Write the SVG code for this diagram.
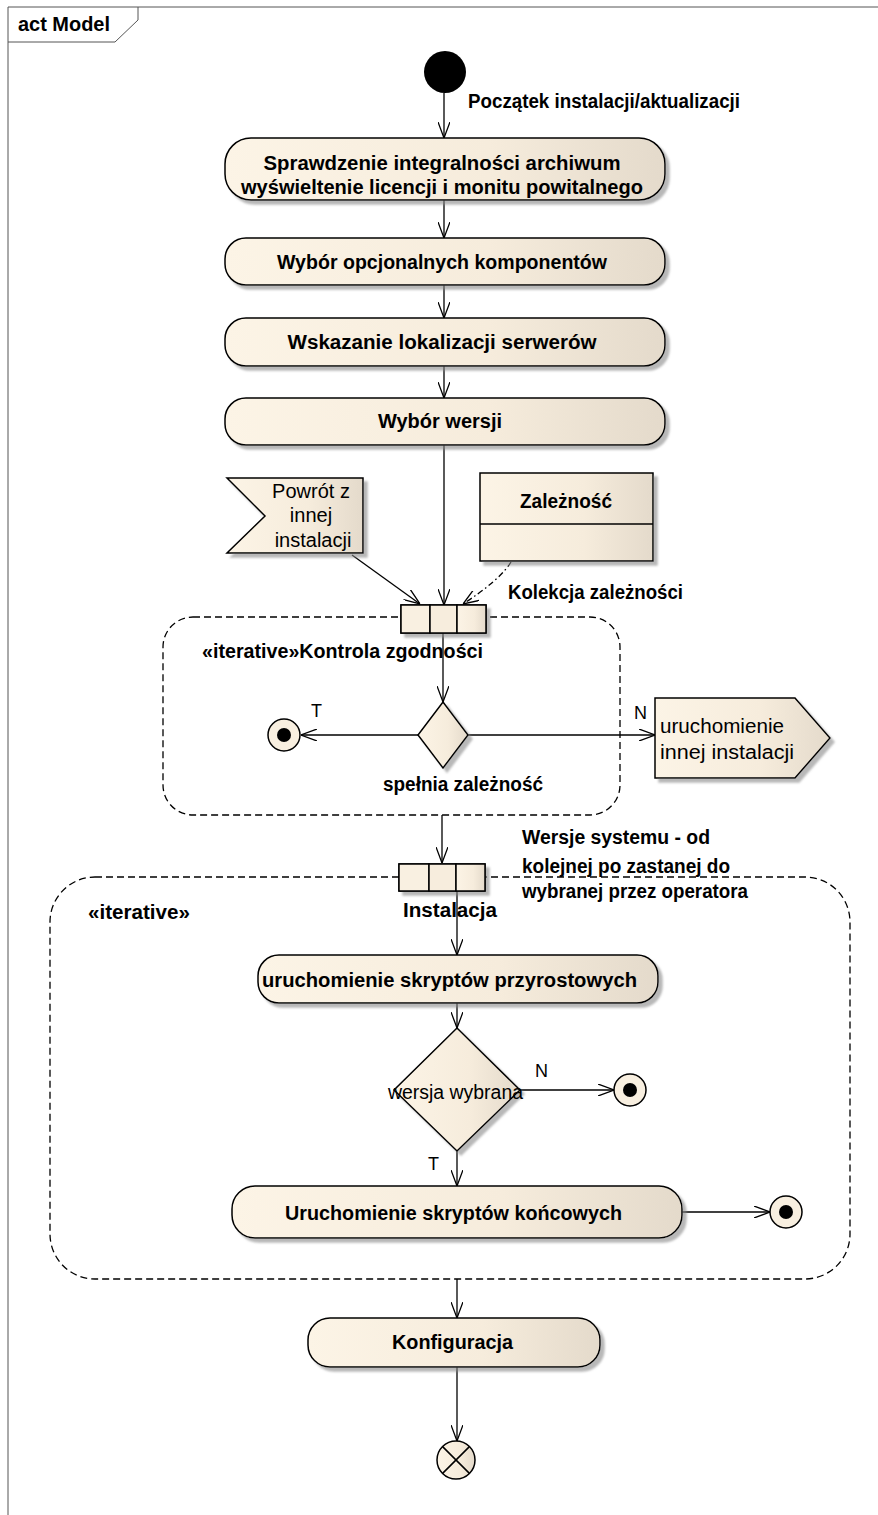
<svg xmlns="http://www.w3.org/2000/svg" width="878" height="1515" viewBox="0 0 878 1515">
<defs>
<linearGradient id="g" x1="0" y1="0" x2="1" y2="0">
<stop offset="0" stop-color="#fcf4e6"/>
<stop offset="0.6" stop-color="#f6ecdc"/>
<stop offset="1" stop-color="#e4dacb"/>
</linearGradient>
<filter id="sh" x="-10%" y="-10%" width="130%" height="140%">
<feDropShadow dx="4" dy="4" stdDeviation="1" flood-color="#888" flood-opacity="0.6"/>
</filter>
<marker id="arr" viewBox="0 0 16 12" refX="16" refY="6" markerWidth="16" markerHeight="12" markerUnits="userSpaceOnUse" orient="auto">
<path d="M0,0 L16,6 L0,12" fill="none" stroke="#000" stroke-width="1.3"/>
</marker>
<style>
.n{fill:url(#g);stroke:#000;stroke-width:1.5;filter:url(#sh)}
.b{font-family:"Liberation Sans",Arial,sans-serif;font-weight:bold;font-size:20px;fill:#000}
.r{font-family:"Liberation Sans",Arial,sans-serif;font-size:20px;fill:#000}
.s{font-family:"Liberation Sans",Arial,sans-serif;font-size:18px;fill:#000}
.c{text-anchor:middle}
.e{fill:none;stroke:#000;stroke-width:1.3}
.reg{fill:none;stroke:#000;stroke-width:1.3;stroke-dasharray:7,4}
</style>
</defs>
<rect width="878" height="1515" fill="#fff"/>

<g id="frame">
<path d="M8,1515 V7 H878" fill="none" stroke="#555" stroke-width="1"/>
<path d="M8,42 H115 L138,20 V7" fill="none" stroke="#555" stroke-width="1"/>
<text class="b" x="18" y="31" textLength="92" lengthAdjust="spacingAndGlyphs">act Model</text>
</g>

<g id="regions">
<rect id="region-kontrola" class="reg" x="163" y="617" width="457" height="198" rx="30"/>
<rect id="region-instalacja" class="reg" x="50" y="877" width="800" height="402" rx="45"/>
</g>

<g id="connectors">
<line class="e" x1="444" y1="93" x2="444" y2="138" marker-end="url(#arr)"/>
<line class="e" x1="444" y1="200" x2="444" y2="238" marker-end="url(#arr)"/>
<line class="e" x1="444" y1="285" x2="444" y2="318" marker-end="url(#arr)"/>
<line class="e" x1="444" y1="366" x2="444" y2="398" marker-end="url(#arr)"/>
<line class="e" x1="444" y1="445" x2="444" y2="605" marker-end="url(#arr)"/>
<line class="e" x1="352" y1="555" x2="420" y2="604" marker-end="url(#arr)"/>
<path class="e" d="M511,562 Q500,580 463,604" stroke-dasharray="6,3,1.5,3" marker-end="url(#arr)"/>
<line class="e" x1="443" y1="633" x2="443" y2="702" marker-end="url(#arr)"/>
<line class="e" x1="418" y1="735" x2="301" y2="735" marker-end="url(#arr)"/>
<line class="e" x1="468" y1="735" x2="655" y2="735" marker-end="url(#arr)"/>
<line class="e" x1="442" y1="815" x2="442" y2="863" marker-end="url(#arr)"/>
<line class="e" x1="457" y1="891" x2="457" y2="955" marker-end="url(#arr)"/>
<line class="e" x1="457" y1="1003" x2="457" y2="1028" marker-end="url(#arr)"/>
<line class="e" x1="520" y1="1090" x2="614" y2="1090" marker-end="url(#arr)"/>
<line class="e" x1="457" y1="1151" x2="457" y2="1186" marker-end="url(#arr)"/>
<line class="e" x1="682" y1="1212" x2="770" y2="1212" marker-end="url(#arr)"/>
<line class="e" x1="457" y1="1279" x2="457" y2="1318" marker-end="url(#arr)"/>
<line class="e" x1="457" y1="1367" x2="457" y2="1441" marker-end="url(#arr)"/>
</g>

<g id="start">
<circle cx="445" cy="72" r="21" fill="#000"/>
<text class="b" x="468" y="108" textLength="272" lengthAdjust="spacingAndGlyphs">Początek instalacji/aktualizacji</text>
</g>

<g id="a1">
<rect class="n" x="225" y="138" width="440" height="62" rx="26"/>
<text class="b c" x="442" y="170" textLength="357" lengthAdjust="spacingAndGlyphs">Sprawdzenie integralności archiwum</text>
<text class="b c" x="442" y="194" textLength="402" lengthAdjust="spacingAndGlyphs">wyświeltenie licencji i monitu powitalnego</text>
</g>

<g id="a2">
<rect class="n" x="225" y="238" width="440" height="47" rx="21"/>
<text class="b c" x="442" y="269" textLength="330" lengthAdjust="spacingAndGlyphs">Wybór opcjonalnych komponentów</text>
</g>

<g id="a3">
<rect class="n" x="225" y="318" width="440" height="48" rx="21"/>
<text class="b c" x="442" y="349" textLength="309" lengthAdjust="spacingAndGlyphs">Wskazanie lokalizacji serwerów</text>
</g>

<g id="a4">
<rect class="n" x="225" y="398" width="440" height="47" rx="21"/>
<text class="b c" x="440" y="428" textLength="124" lengthAdjust="spacingAndGlyphs">Wybór wersji</text>
</g>

<g id="powrot">
<polygon class="n" points="227,478 363,478 363,553 227,553 265,516"/>
<text class="r c" x="311" y="498">Powrót z</text>
<text class="r c" x="311" y="522">innej</text>
<text class="r c" x="313" y="547">instalacji</text>
</g>

<g id="zaleznosc">
<rect class="n" x="480" y="473" width="173" height="88"/>
<line x1="480" y1="524" x2="653" y2="524" stroke="#000" stroke-width="1.5"/>
<text class="b c" x="566" y="508" textLength="92" lengthAdjust="spacingAndGlyphs">Zależność</text>
<text class="b" x="508" y="599" textLength="175" lengthAdjust="spacingAndGlyphs">Kolekcja zależności</text>
</g>

<g id="pins1">
<rect class="n" x="401" y="605" width="85" height="28"/>
<rect x="401" y="605" width="29" height="28" fill="#f9f0e1" stroke="#000" stroke-width="1.5"/>
<rect x="430" y="605" width="27" height="28" fill="#f7eddd" stroke="#000" stroke-width="1.5"/>
<rect x="457" y="605" width="29" height="28" fill="url(#g)" stroke="#000" stroke-width="1.5"/>
<text class="b" x="202" y="658" textLength="281" lengthAdjust="spacingAndGlyphs">«iterative»Kontrola zgodności</text>
</g>

<g id="d1">
<polygon class="n" points="443,702 468,735 443,768 418,735"/>
<text class="b c" x="463" y="791" textLength="160" lengthAdjust="spacingAndGlyphs">spełnia zależność</text>
<text class="s" x="311" y="717">T</text>
<text class="s" x="634" y="719">N</text>
</g>

<g id="f1">
<circle cx="284" cy="735" r="16" fill="#f8efe0" stroke="#000" stroke-width="1.5"/>
<circle cx="284" cy="735" r="7" fill="#000"/>
</g>

<g id="send">
<polygon class="n" points="655,698 795,698 830,738 795,778 655,778"/>
<text class="r" x="660" y="733" textLength="124" lengthAdjust="spacingAndGlyphs">uruchomienie</text>
<text class="r" x="660" y="759" textLength="134" lengthAdjust="spacingAndGlyphs">innej instalacji</text>
</g>

<g id="pins2">
<rect class="n" x="399" y="864" width="86" height="27"/>
<rect x="399" y="864" width="30" height="27" fill="#f9f0e1" stroke="#000" stroke-width="1.5"/>
<rect x="429" y="864" width="27" height="27" fill="#f7eddd" stroke="#000" stroke-width="1.5"/>
<rect x="456" y="864" width="29" height="27" fill="url(#g)" stroke="#000" stroke-width="1.5"/>
<text class="b" x="522" y="844" textLength="188" lengthAdjust="spacingAndGlyphs">Wersje systemu - od</text>
<text class="b" x="522" y="873" textLength="208" lengthAdjust="spacingAndGlyphs">kolejnej po zastanej do</text>
<text class="b" x="522" y="898" textLength="226" lengthAdjust="spacingAndGlyphs">wybranej przez operatora</text>
<text class="b" x="88" y="919" textLength="102" lengthAdjust="spacingAndGlyphs">«iterative»</text>
<text class="b" x="403" y="917" textLength="94" lengthAdjust="spacingAndGlyphs">Instalacja</text>
</g>

<g id="a5">
<rect class="n" x="258" y="955" width="400" height="48" rx="21"/>
<text class="b" x="262" y="987" textLength="375" lengthAdjust="spacingAndGlyphs">uruchomienie skryptów przyrostowych</text>
</g>

<g id="d2">
<polygon class="n" points="457,1028 520,1090 457,1151 394,1090"/>
<text class="r" x="388" y="1099" textLength="135" lengthAdjust="spacingAndGlyphs">wersja wybrana</text>
<text class="s" x="535" y="1077">N</text>
<text class="s" x="428" y="1170">T</text>
</g>

<g id="f2">
<circle cx="630" cy="1090" r="16" fill="#f8efe0" stroke="#000" stroke-width="1.5"/>
<circle cx="630" cy="1090" r="7" fill="#000"/>
</g>

<g id="a6">
<rect class="n" x="232" y="1186" width="450" height="52" rx="23"/>
<text class="b" x="285" y="1220" textLength="337" lengthAdjust="spacingAndGlyphs">Uruchomienie skryptów końcowych</text>
</g>

<g id="f3">
<circle cx="786" cy="1212" r="16" fill="#f8efe0" stroke="#000" stroke-width="1.5"/>
<circle cx="786" cy="1212" r="7" fill="#000"/>
</g>

<g id="a7">
<rect class="n" x="308" y="1318" width="292" height="49" rx="22"/>
<text class="b" x="392" y="1349" textLength="121" lengthAdjust="spacingAndGlyphs">Konfiguracja</text>
</g>

<g id="flowfinal">
<circle cx="456" cy="1460" r="19" fill="url(#g)" stroke="#000" stroke-width="1.5"/>
<path d="M442.6,1446.6 L469.4,1473.4 M469.4,1446.6 L442.6,1473.4" stroke="#000" stroke-width="1.5"/>
</g>
</svg>
